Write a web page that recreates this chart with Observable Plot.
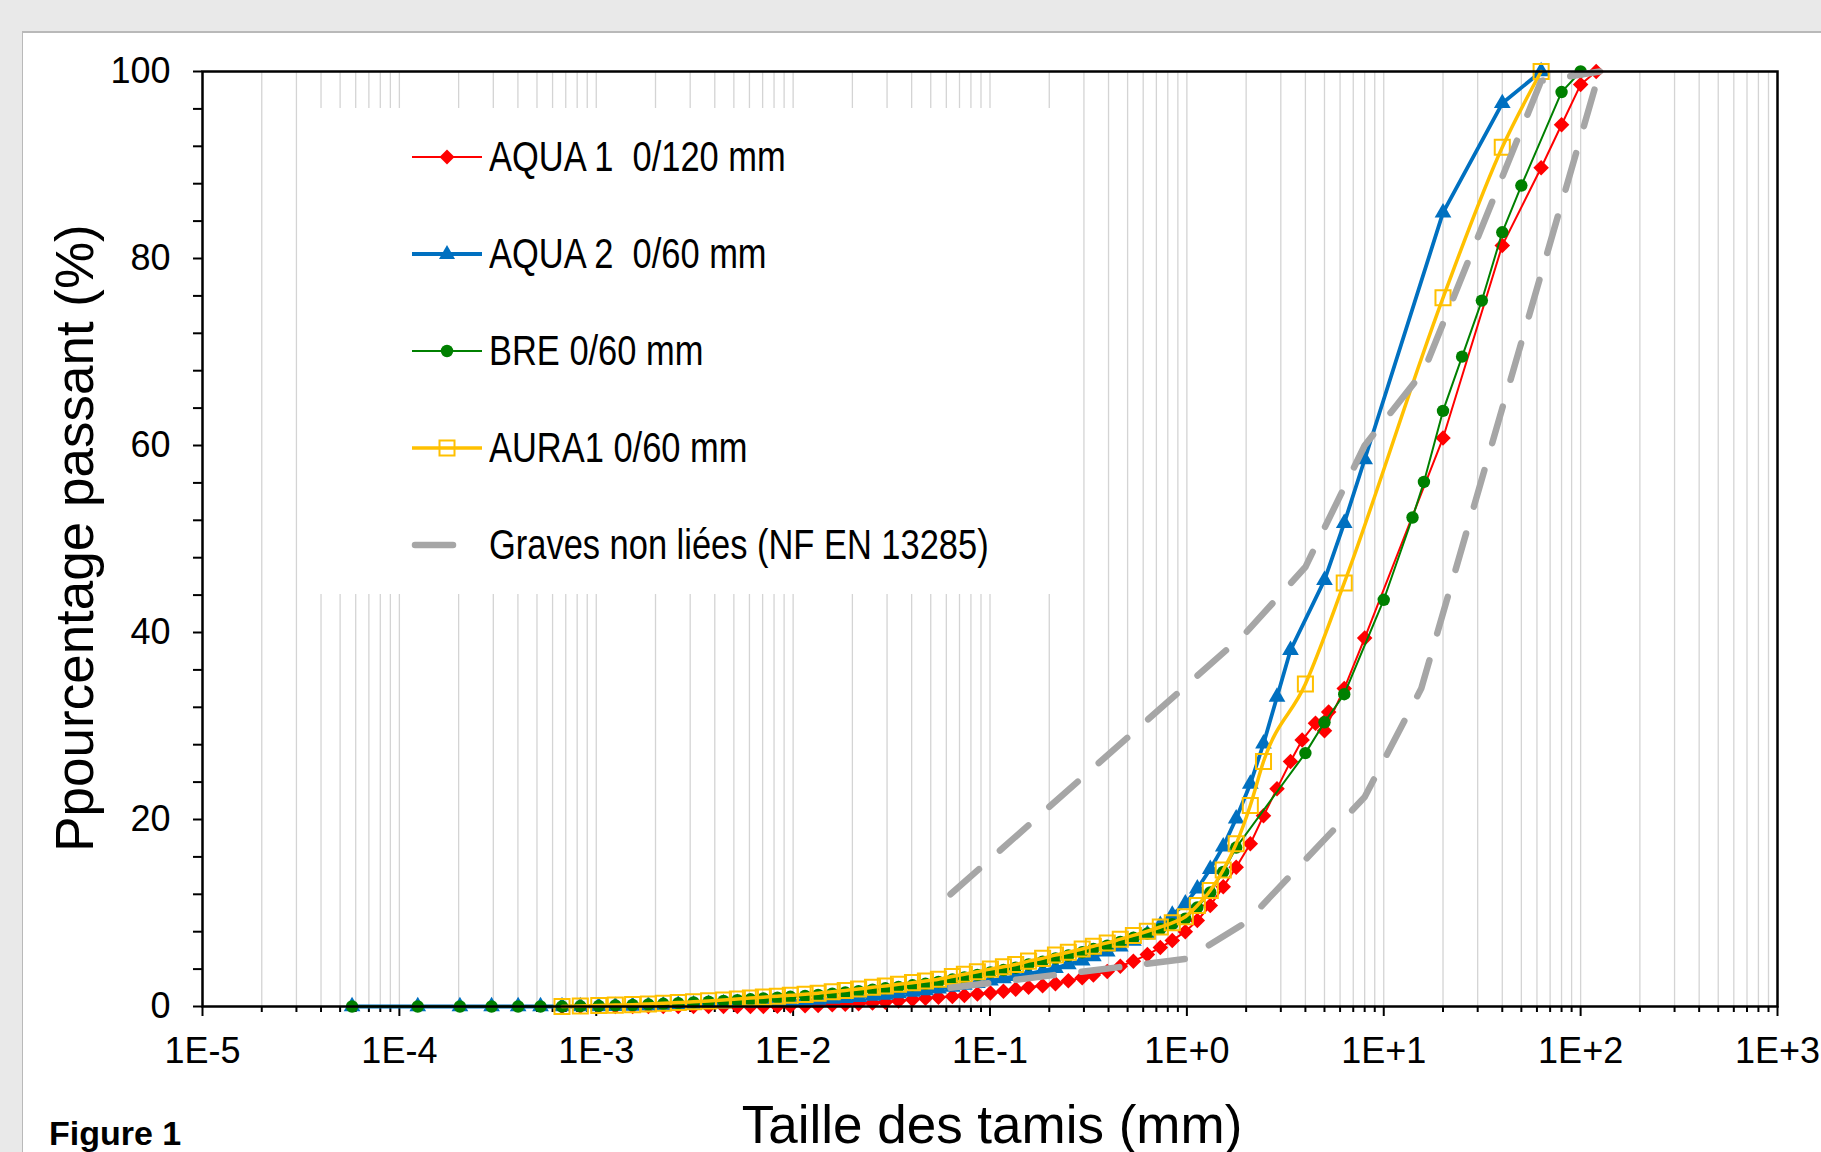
<!DOCTYPE html>
<html>
<head>
<meta charset="utf-8">
<script src="https://cdn.jsdelivr.net/npm/d3@7"></script>
<script src="https://cdn.jsdelivr.net/npm/@observablehq/plot@0.6"></script>
<style>
  html, body { margin: 0; padding: 0; }
  body { width: 1821px; height: 1152px; overflow: hidden; position: relative; background: #e9e9e9; font-family: "Liberation Sans", Arial, sans-serif; }
  #panel { position: absolute; left: 22px; top: 31px; width: 1830px; height: 1140px; background: #fff; border-left: 1px solid #b9b9b9; border-top: 2px solid #b9b9b9; }
  #chart { position: absolute; left: 0; top: 0; }
  .abs { position: absolute; white-space: pre; color: #000; }
  #legend { position: absolute; left: 318px; top: 108px; width: 742px; height: 486px; background: #fff; }
</style>
</head>
<body>
<div id="panel"></div>
<div id="chart"></div>
<div id="legend"></div>
<div class="abs" id="ytitle" style="font-size:53px; left:74px; top:538px; transform: translate(-50%,-50%) rotate(-90deg); line-height:1;">Ppourcentage passant (%)</div>
<div class="abs" id="xtitle" style="font-size:53px; left:992px; top:1098px; transform: translateX(-50%); line-height:1;">Taille des tamis (mm)</div>
<div class="abs" style="font-size:34px; font-weight:bold; left:49px; top:1116px; line-height:1;">Figure 1</div>
<script>
// ---------------- DATA ----------------
const seriesNames = ["AQUA 1  0/120 mm", "AQUA 2  0/60 mm", "BRE 0/60 mm", "AURA1 0/60 mm", "Graves non liées (NF EN 13285)"];

// AQUA 1 0/120 mm (laser part then sieves)
const aqua1Size = [0.00067,0.00083,0.00103,0.00125,0.00153,0.00184,0.00219,0.00261,0.00312,0.00372,0.00443,0.00521,
  0.00607,0.00706,0.00832,0.00968,0.0115,0.0134,0.0158,0.0184,0.0215,0.0253,0.0294,0.0343,0.0404,0.047,0.0547,0.0644,
  0.0741,0.0863,0.1005,0.117,0.135,0.157,0.185,0.215,0.25,0.294,0.335,0.394,0.459,0.535,0.63,0.733,0.843,0.982,
  1.13,1.315,1.53,1.78,2.1,2.45,2.87,3.36,3.85,4.5,5.25,
  5,6.3,8,20,40,63,80,100,120];
const aqua1Pass = [0,0,0,0,0,0,0,0,0,0,0,0,
  0,0.01,0.03,0.05,0.08,0.12,0.18,0.23,0.29,0.37,0.47,0.6,0.74,0.88,0.98,1.06,
  1.18,1.33,1.45,1.62,1.85,2.05,2.22,2.43,2.75,3.07,3.38,3.75,4.3,4.85,5.55,6.3,7.07,8.0,
  9.2,10.8,12.8,14.9,17.4,20.4,23.3,26.2,28.5,30.3,31.5,
  29.5,34.0,39.4,60.8,81.4,89.7,94.3,98.6,100];

// AQUA 2 0/60 mm
const aqua2Size = [0.0000575,0.000124,0.000203,0.000294,0.000401,0.000521,
  0.00067,0.00083,0.00103,0.00125,0.00153,0.00184,0.00219,0.00261,0.00312,0.00372,0.00443,0.00521,
  0.00607,0.00706,0.00832,0.00968,0.0115,0.0134,0.0158,0.0184,0.0215,0.0253,0.0294,0.0343,0.0404,0.047,0.0547,0.0644,
  0.0741,0.0863,0.1005,0.117,0.135,0.157,0.185,0.215,0.25,0.294,0.335,0.394,0.459,0.535,0.63,0.733,0.843,0.982,
  1.13,1.315,1.53,1.78,2.1,2.45,2.87,3.36,
  5,6.3,8,20,40,63];
const aqua2Pass = [0,0,0,0,0,0,
  0,0,0.02,0.04,0.07,0.1,0.13,0.17,0.2,0.25,0.3,0.35,
  0.4,0.45,0.5,0.56,0.62,0.7,0.8,0.9,1.0,1.12,1.25,1.4,1.55,1.72,1.9,2.1,
  2.3,2.5,2.75,3.0,3.25,3.5,3.8,4.1,4.5,4.9,5.35,5.85,6.4,7.0,7.7,8.7,9.8,11.0,
  12.6,14.7,17.1,20.1,23.8,28.1,33.1,38.1,
  45.6,51.7,58.5,84.9,96.6,100];

// BRE 0/60 mm
const breSize = [0.0000575,0.000124,0.000203,0.000294,0.000401,0.000521,
  0.00067,0.00083,0.00103,0.00125,0.00153,0.00184,0.00219,0.00261,0.00312,0.00372,0.00443,0.00521,
  0.00607,0.00706,0.00832,0.00968,0.0115,0.0134,0.0158,0.0184,0.0215,0.0253,0.0294,0.0343,0.0404,0.047,0.0547,0.0644,
  0.0741,0.0863,0.1005,0.117,0.135,0.157,0.185,0.215,0.25,0.294,0.335,0.394,0.459,0.535,0.63,0.733,0.843,0.982,
  1.13,1.315,1.53,1.78,
  4,5,6.3,10,14,16,20,25,31.5,40,50,80,100];
const brePass = [0,0,0,0,0,0,
  0,0.03,0.07,0.11,0.16,0.22,0.29,0.36,0.43,0.52,0.6,0.68,
  0.77,0.86,0.95,1.04,1.13,1.24,1.38,1.5,1.64,1.8,1.95,2.1,2.27,2.43,2.62,2.88,
  3.12,3.38,3.65,3.9,4.15,4.5,4.8,5.15,5.45,5.8,6.15,6.5,6.9,7.35,7.8,8.3,8.8,9.4,
  10.6,12.2,14.4,17.0,
  27.1,30.4,33.4,43.5,52.3,56.1,63.7,69.5,75.5,82.8,87.8,97.8,100];

// AURA1 0/60 mm
const aura1Size = [0.00067,0.00083,0.00103,0.00125,0.00153,0.00184,0.00219,0.00261,0.00312,0.00372,0.00443,0.00521,
  0.00607,0.00706,0.00832,0.00968,0.0115,0.0134,0.0158,0.0184,0.0215,0.0253,0.0294,0.0343,0.0404,0.047,0.0547,0.0644,
  0.0741,0.0863,0.1005,0.117,0.135,0.157,0.185,0.215,0.25,0.294,0.335,0.394,0.459,0.535,0.63,0.733,0.843,0.982,
  1.13,1.315,1.53,1.78,2.1,2.45,
  4,6.3,20,40,63];
const aura1Pass = [0,0.05,0.1,0.15,0.2,0.27,0.35,0.43,0.5,0.6,0.7,0.8,
  0.9,1.0,1.1,1.2,1.3,1.42,1.58,1.72,1.87,2.05,2.2,2.37,2.55,2.72,2.92,3.2,
  3.45,3.72,4.0,4.25,4.5,4.85,5.15,5.5,5.8,6.15,6.45,6.8,7.2,7.6,8.05,8.5,8.95,9.6,
  10.8,12.4,14.6,17.4,21.5,26.2,
  34.5,45.3,75.8,91.9,100];

// Graves non liées (NF EN 13285) envelope
const envUpperSize = [0.063, 2, 4, 8, 16, 63, 125];
const envUpperPass = [12, 40, 47, 60, 68, 99, 100];
const envLowerSize = [0.063, 1, 2, 8, 15.5, 125];
const envLowerPass = [2, 5.1, 9, 22.4, 34, 100];

// Axis ticks
const xMajorTicks = [1e-5, 1e-4, 1e-3, 1e-2, 1e-1, 1e0, 1e1, 1e2, 1e3];
const xTickLabels = ["1E-5", "1E-4", "1E-3", "1E-2", "1E-1", "1E+0", "1E+1", "1E+2", "1E+3"];
const yMajorTicks = [0, 20, 40, 60, 80, 100];
const yMinorTicks = [4, 8, 12, 16, 24, 28, 32, 36, 44, 48, 52, 56, 64, 68, 72, 76, 84, 88, 92, 96];

// ---------------- BUILD ----------------
const colors = {red: "#FF0000", blue: "#0070C0", green: "#008000", yellow: "#FFC000", grey: "#A6A6A6"};
const toRows = (xs, ys) => xs.map((s, i) => ({size: s, pass: ys[i]}));
const aqua1 = toRows(aqua1Size, aqua1Pass);
const aqua2 = toRows(aqua2Size, aqua2Pass);
const bre = toRows(breSize, brePass);
const aura1 = toRows(aura1Size, aura1Pass);
const envUp = toRows(envUpperSize, envUpperPass);
const envLo = toRows(envLowerSize, envLowerPass);

const xMinor = [];
for (let k = -5; k < 3; k++) for (let m = 2; m <= 9; m++) xMinor.push(m * Math.pow(10, k));
const xGrid = xMajorTicks.concat(xMinor);

const dash = "38,28";

const chart = Plot.plot({
  width: 1821, height: 1152,
  marginLeft: 202, marginRight: 44, marginTop: 71, marginBottom: 146,
  x: {type: "log", domain: [1e-5, 1e3]},
  y: {domain: [0, 100]},
  style: {background: "transparent", fontFamily: "'Liberation Sans', Arial, sans-serif", color: "#000", overflow: "visible"},
  marks: [
    Plot.ruleX(xGrid, {stroke: "#d4d4d4", strokeWidth: 1.3}),
    Plot.axisX({ticks: xMinor, tickSize: 6, tickFormat: () => "", strokeWidth: 2, label: null}),
    Plot.axisX({ticks: xMajorTicks, tickSize: 10, tickPadding: 21, fontSize: 36, strokeWidth: 2, label: null,
      tickFormat: d => xTickLabels[xMajorTicks.findIndex(t => Math.abs(Math.log10(t) - Math.log10(d)) < 1e-6)]}),
    Plot.axisY({ticks: yMinorTicks, tickSize: 9, tickFormat: () => "", strokeWidth: 2, label: null}),
    Plot.axisY({ticks: yMajorTicks, tickSize: 9, tickPadding: 23, fontSize: 36, strokeWidth: 2, label: null}),
    Plot.line(aqua1, {x: "size", y: "pass", stroke: colors.red, strokeWidth: 2}),
    Plot.dot(aqua1, {x: "size", y: "pass", symbol: "diamond2", r: 7, fill: colors.red}),
    Plot.line(aqua2, {x: "size", y: "pass", stroke: colors.blue, strokeWidth: 3.8}),
    Plot.dot(aqua2, {x: "size", y: "pass", symbol: "triangle", r: 6.2, fill: colors.blue}),
    Plot.line(bre, {x: "size", y: "pass", stroke: colors.green, strokeWidth: 2}),
    Plot.dot(bre, {x: "size", y: "pass", symbol: "circle", r: 6.2, fill: colors.green}),
    Plot.line(aura1, {x: "size", y: "pass", stroke: colors.yellow, strokeWidth: 3.5, curve: "monotone-x"}),
    Plot.dot(aura1, {x: "size", y: "pass", symbol: "square", r: 8.5, fill: "none", stroke: colors.yellow, strokeWidth: 2}),
    Plot.line(envUp, {x: "size", y: "pass", stroke: colors.grey, strokeWidth: 6.5, strokeDasharray: dash, strokeLinecap: "round"}),
    Plot.line(envLo, {x: "size", y: "pass", stroke: colors.grey, strokeWidth: 6.5, strokeDasharray: dash, strokeLinecap: "round"}),
    Plot.frame({stroke: "#000", strokeWidth: 2.5})
  ]
});
document.getElementById("chart").appendChild(chart);

// ---------------- LEGEND ----------------
function fontAvailable(name) {
  const c = document.createElement("canvas").getContext("2d");
  const s = "AQUA 1 0/120 mm Graves";
  c.font = "40px monospace"; const a = c.measureText(s).width;
  c.font = `40px "${name}", monospace`; const b = c.measureText(s).width;
  return Math.abs(a - b) > 0.5;
}
const narrow = fontAvailable("Liberation Sans Narrow");
const legend = document.getElementById("legend");
const legendItems = [
  {name: seriesNames[0], color: colors.red, width: 2, marker: "diamond"},
  {name: seriesNames[1], color: colors.blue, width: 3.8, marker: "triangle"},
  {name: seriesNames[2], color: colors.green, width: 2, marker: "circle"},
  {name: seriesNames[3], color: colors.yellow, width: 3.5, marker: "square"},
  {name: seriesNames[4], color: colors.grey, width: 6.5, marker: "dash"}
];
const rowY0 = 157 - 108, rowStep = 97;
legendItems.forEach((it, i) => {
  const cy = rowY0 + i * rowStep;
  const ns = "http://www.w3.org/2000/svg";
  const svg = document.createElementNS(ns, "svg");
  svg.setAttribute("width", 90); svg.setAttribute("height", 30);
  svg.style.position = "absolute"; svg.style.left = (405 - 318) + "px"; svg.style.top = (cy - 15) + "px";
  svg.style.overflow = "visible";
  const line = document.createElementNS(ns, "line");
  if (it.marker === "dash") {
    line.setAttribute("x1", 10); line.setAttribute("x2", 76);
    line.setAttribute("stroke-dasharray", dash); line.setAttribute("stroke-linecap", "round");
  } else { line.setAttribute("x1", 7); line.setAttribute("x2", 77); }
  line.setAttribute("y1", 15); line.setAttribute("y2", 15);
  line.setAttribute("stroke", it.color); line.setAttribute("stroke-width", it.width);
  svg.appendChild(line);
  const cx = 42;
  let m = null;
  if (it.marker === "diamond") { m = document.createElementNS(ns, "path"); m.setAttribute("d", `M${cx},${15-7.5}L${cx+7.5},15L${cx},${15+7.5}L${cx-7.5},15Z`); m.setAttribute("fill", it.color); }
  if (it.marker === "triangle") { m = document.createElementNS(ns, "path"); m.setAttribute("d", `M${cx},${15-9}L${cx+8},${15+5}L${cx-8},${15+5}Z`); m.setAttribute("fill", it.color); }
  if (it.marker === "circle") { m = document.createElementNS(ns, "circle"); m.setAttribute("cx", cx); m.setAttribute("cy", 15); m.setAttribute("r", 6.2); m.setAttribute("fill", it.color); }
  if (it.marker === "square") { m = document.createElementNS(ns, "rect"); m.setAttribute("x", cx - 7.5); m.setAttribute("y", 15 - 7.5); m.setAttribute("width", 15); m.setAttribute("height", 15); m.setAttribute("fill", "none"); m.setAttribute("stroke", it.color); m.setAttribute("stroke-width", 2); }
  if (m) svg.appendChild(m);
  legend.appendChild(svg);
  const t = document.createElement("div");
  t.className = "abs";
  t.textContent = it.name;
  t.style.left = (489 - 318) + "px";
  t.style.top = (cy - 24) + "px";
  t.style.fontSize = "42px";
  t.style.lineHeight = "48px";
  if (narrow) { t.style.fontFamily = "'Liberation Sans Narrow', 'Arial Narrow', sans-serif"; }
  else { t.style.fontFamily = "'Liberation Sans', Arial, sans-serif"; t.style.transform = "scaleX(0.82)"; t.style.transformOrigin = "0 50%"; }
  legend.appendChild(t);
});
</script>
</body>
</html>
